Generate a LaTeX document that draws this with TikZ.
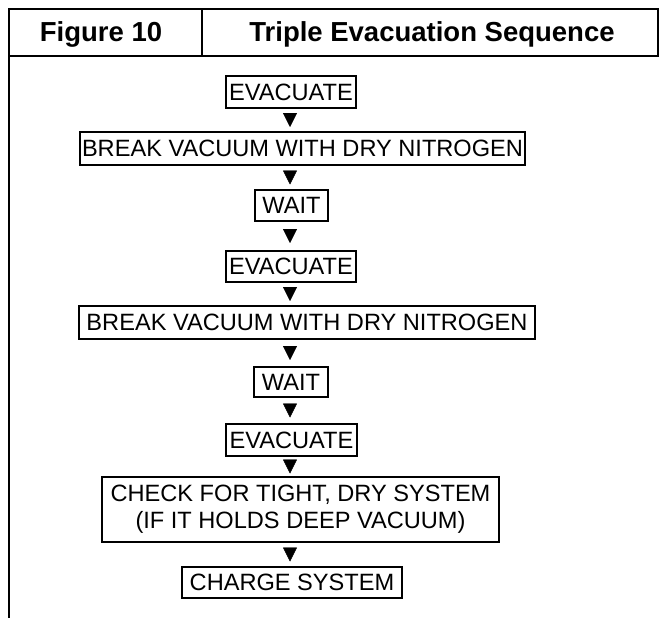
\documentclass[tikz,border=0pt]{standalone}
\usepackage{fontspec}
\setmainfont{Liberation Sans}
\usetikzlibrary{arrows.meta,decorations.markings}
\tikzset{
  box/.style={draw, line width=1.2pt, inner sep=0pt, align=center,
    font=\fontsize{23.6}{27}\selectfont},
  frameline/.style={line width=1.6pt},
  head/.style={font=\bfseries\fontsize{27.5}{30}\selectfont, anchor=base},
  flow/.style={postaction={decorate}, decoration={markings,
    mark=at position 0.5 with {\arrow[xshift=7pt]{Triangle[width=14pt,length=14pt]}}}}
}
\begin{document}
\begin{tikzpicture}[x=1pt,y=1pt]
\useasboundingbox (0,0) rectangle (659,-618);
% frame
\draw[frameline] (9,-618) -- (9,-9) -- (658,-9) -- (658,-56);
\draw[frameline] (9,-56) -- (659,-56);
\draw[frameline] (202,-9) -- (202,-56);
\node[head] (fig) at (101,-42) {Figure 10};
\node[head] (title) at (432,-42) {Triple Evacuation Sequence};
% axis of arrows
\coordinate (ax) at (290,0);
% boxes
\node[box, minimum width=130, minimum height=32] (ev1) at (291,-92) {EVACUATE};
\node[box, minimum width=445, minimum height=33] (br1) at (302.5,-148.5) {BREAK VACUUM WITH DRY NITROGEN};
\node[box, minimum width=73, minimum height=31] (wt1) at (291.5,-205.5) {WAIT};
\node[box, minimum width=130, minimum height=31] (ev2) at (291,-266.5) {EVACUATE};
\node[box, minimum width=456, minimum height=33] (br2) at (307,-322.5) {BREAK VACUUM WITH DRY NITROGEN};
\node[box, minimum width=74, minimum height=30] (wt2) at (291,-382) {WAIT};
\node[box, minimum width=131, minimum height=32] (ev3) at (291.5,-440) {EVACUATE};
\node[box, minimum width=397, minimum height=65] (ck) at (300.5,-509.5) {CHECK FOR TIGHT, DRY SYSTEM\\(IF IT HOLDS DEEP VACUUM)};
\node[box, minimum width=220, minimum height=31] (ch) at (292,-582.5) {CHARGE SYSTEM};
% arrows
\path[flow] (ev1.south -| ax) -- (br1.north -| ax);
\path[flow] (br1.south -| ax) -- (wt1.north -| ax);
\path[flow] (wt1.south -| ax) -- (ev2.north -| ax);
\path[flow] (ev2.south -| ax) -- (br2.north -| ax);
\path[flow] (br2.south -| ax) -- (wt2.north -| ax);
\path[flow] (wt2.south -| ax) -- (ev3.north -| ax);
\path[flow] (ev3.south -| ax) -- (ck.north -| ax);
\path[flow] (ck.south -| ax) -- (ch.north -| ax);
\end{tikzpicture}
\end{document}
